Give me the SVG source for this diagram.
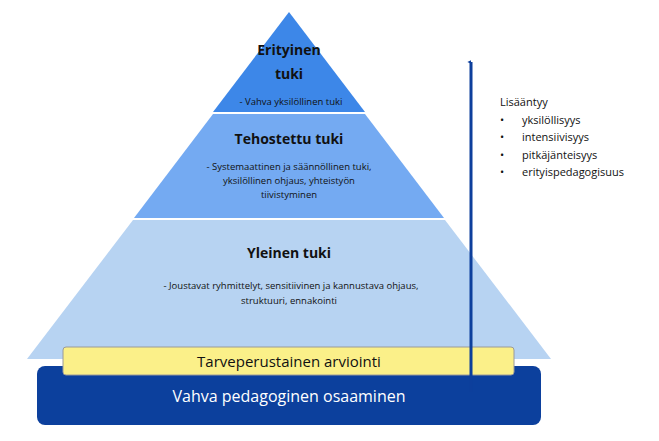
<svg xmlns="http://www.w3.org/2000/svg" width="659" height="441" viewBox="0 0 659 441">
<style>
text{font-family:"Open Sans","Liberation Sans",sans-serif;fill:#111}
.h{font-weight:bold;font-size:14px;text-anchor:middle}
.s{font-size:9.5px;text-anchor:middle}
.r{font-size:11px}
</style>
<defs><marker id="ah" viewBox="0 0 10 10" refX="5" refY="9" markerWidth="4" markerHeight="4" orient="auto-start-reverse" markerUnits="userSpaceOnUse"><path d="M0,10 L5,0 L10,10 Z" fill="#0d3f9c"/></marker></defs>
<rect width="659" height="441" fill="#fff"/>
<g id="bottom"><polygon points="133,220 445,220 551,359 27,359" fill="#b7d3f2"/>
<text class="h" x="289" y="258">Yleinen tuki</text>
<text class="s" x="291" y="289">- Joustavat ryhmittelyt, sensitiivinen ja kannustava ohjaus,</text>
<text class="s" x="289" y="304">struktuuri, ennakointi</text></g>
<g id="middle"><polygon points="213,114 365,114 444,218 134,218" fill="#74aaf2"/>
<text class="h" x="289" y="144">Tehostettu tuki</text>
<text class="s" x="289" y="170">- Systemaattinen ja säännöllinen tuki,</text>
<text class="s" x="289" y="184">yksilöllinen ohjaus, yhteistyön</text>
<text class="s" x="289" y="198">tiivistyminen</text></g>
<g id="top"><polygon points="289,12 365,112 213,112" fill="#3d87e8"/>
<text class="h" x="289" y="55">Erityinen</text>
<text class="h" x="289" y="79">tuki</text>
<text class="s" x="291" y="105">- Vahva yksilöllinen tuki</text></g>
<g id="base"><rect x="37" y="366" width="504" height="59" rx="8" fill="#0c409d"/>
<text x="289" y="402" font-size="16" text-anchor="middle" style="fill:#fff">Vahva pedagoginen osaaminen</text></g>
<g id="assessment"><rect x="63" y="347" width="451" height="28" rx="3" fill="#fbf089" stroke="#9a9a9a" stroke-width="1"/>
<text x="289" y="367" font-size="15" text-anchor="middle">Tarveperustainen arviointi</text></g>
<g id="connectors"><line x1="471" y1="392" x2="471" y2="62" stroke="#0d3f9c" stroke-width="3" marker-end="url(#ah)"/></g>
<g id="legend">
<text class="r" x="500" y="106">Lisääntyy</text>
<text class="r" x="500" y="124">•</text><text class="r" x="522" y="124">yksilöllisyys</text>
<text class="r" x="500" y="141">•</text><text class="r" x="522" y="141">intensiivisyys</text>
<text class="r" x="500" y="159">•</text><text class="r" x="522" y="159">pitkäjänteisyys</text>
<text class="r" x="500" y="176">•</text><text class="r" x="522" y="176">erityispedagogisuus</text>
</g>
</svg>
